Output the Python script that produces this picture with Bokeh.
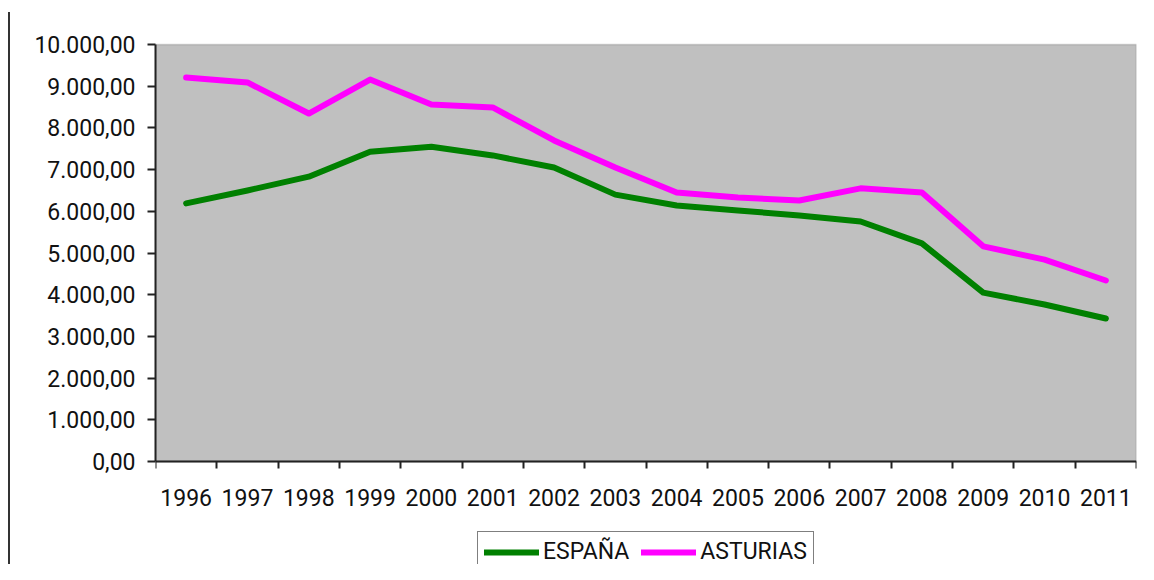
from bokeh.plotting import figure
from bokeh.layouts import row
from bokeh.models import (ColumnDataSource, FixedTicker, Legend, LegendItem,
                          BoxAnnotation, Range1d, Div)
from bokeh.embed import file_html
from bokeh.resources import INLINE

years = ["1996", "1997", "1998", "1999", "2000", "2001", "2002", "2003",
         "2004", "2005", "2006", "2007", "2008", "2009", "2010", "2011"]
espana = [6190, 6500, 6830, 7430, 7550, 7340, 7050, 6400,
          6140, 6020, 5900, 5755, 5230, 4050, 3765, 3430]
asturias = [9210, 9090, 8345, 9160, 8560, 8490, 7700, 7050,
            6450, 6330, 6260, 6550, 6450, 5160, 4840, 4340]
y_ticks = [0, 1000, 2000, 3000, 4000, 5000, 6000, 7000, 8000, 9000, 10000]
y_tick_labels = ["0,00", "1.000,00", "2.000,00", "3.000,00", "4.000,00",
                 "5.000,00", "6.000,00", "7.000,00", "8.000,00", "9.000,00",
                 "10.000,00"]

FONT = "Roboto"
FS = "23px"
H = 564
TOP = 43          # frame top (px)
ZERO = 461        # pixel row of value 0
YMAX = 10000
px_per_unit = (ZERO - 44) / YMAX
y_top = YMAX + (44 - TOP) / px_per_unit
y_bottom = -(H - ZERO) / px_per_unit

xs = [i + 0.5 for i in range(len(years))]
src = ColumnDataSource(dict(x=xs, espana=espana, asturias=asturias))

p = figure(width=1128, height=H, output_backend="svg", toolbar_location=None,
           x_range=Range1d(0, len(years)), y_range=Range1d(y_bottom, y_top),
           min_border_left=145, min_border_right=2, min_border_top=TOP,
           min_border_bottom=0, margin=0)
p.background_fill_color = "white"
p.border_fill_color = "white"
p.outline_line_color = None
p.grid.visible = False

plot_area = BoxAnnotation(left=0, right=len(years), bottom=0, top=YMAX,
                          fill_color="#C0C0C0", fill_alpha=1,
                          line_color="#808080", line_width=2, level="underlay")
p.add_layout(plot_area)

r1 = p.line("x", "espana", source=src, line_color="#008000", line_width=6,
            line_join="round", line_cap="round")
r2 = p.line("x", "asturias", source=src, line_color="#FF00FF", line_width=6,
            line_join="round", line_cap="round")

# x axis, drawn at value 0
p.xaxis.fixed_location = 0
p.xaxis.ticker = FixedTicker(ticks=xs, minor_ticks=list(range(len(years) + 1)))
p.xaxis.major_label_overrides = {x: y for x, y in zip(xs, years)}
p.xaxis.major_tick_line_color = None
p.xaxis.minor_tick_line_color = "#222222"
p.xaxis.minor_tick_line_width = 2
p.xaxis.minor_tick_out = 7
p.xaxis.minor_tick_in = 0
p.xaxis.major_tick_out = 7
p.xaxis.major_tick_in = 0
p.xaxis.major_label_standoff = 20
p.xaxis.axis_line_color = "#222222"
p.xaxis.axis_line_width = 2
p.xaxis.major_label_text_font = FONT
p.xaxis.major_label_text_font_size = FS
p.xaxis.major_label_text_color = "#111111"

# y axis
p.yaxis.bounds = (0, YMAX)
p.yaxis.ticker = FixedTicker(ticks=y_ticks, minor_ticks=[])
p.yaxis.major_label_overrides = {t: l for t, l in zip(y_ticks, y_tick_labels)}
p.yaxis.major_tick_out = 8
p.yaxis.major_tick_in = 0
p.yaxis.major_tick_line_color = "#222222"
p.yaxis.major_tick_line_width = 2
p.yaxis.axis_line_color = "#222222"
p.yaxis.axis_line_width = 2
p.yaxis.major_label_standoff = 12
p.yaxis.major_label_text_font = FONT
p.yaxis.major_label_text_font_size = FS
p.yaxis.major_label_text_color = "#111111"

legend = Legend(items=[LegendItem(label="ESPAÑA", renderers=[r1]),
                       LegendItem(label="ASTURIAS", renderers=[r2])],
                orientation="horizontal", location=(322, -8),
                glyph_width=55, glyph_height=26, label_height=26,
                label_standoff=4, spacing=12, padding=6, margin=0,
                border_line_color="black", border_line_width=1,
                background_fill_color="white", background_fill_alpha=1,
                label_text_font=FONT, label_text_font_size=FS,
                label_text_color="#111111")
p.add_layout(legend, "center")

edge = Div(width=10, height=H, margin=0,
           text='<div style="width:10px;height:552px;margin-top:12px;'
                'border-right:2px solid #333333;box-sizing:border-box"></div>')

layout = row(edge, p)
open("out.html", "w").write(file_html(layout, INLINE))
